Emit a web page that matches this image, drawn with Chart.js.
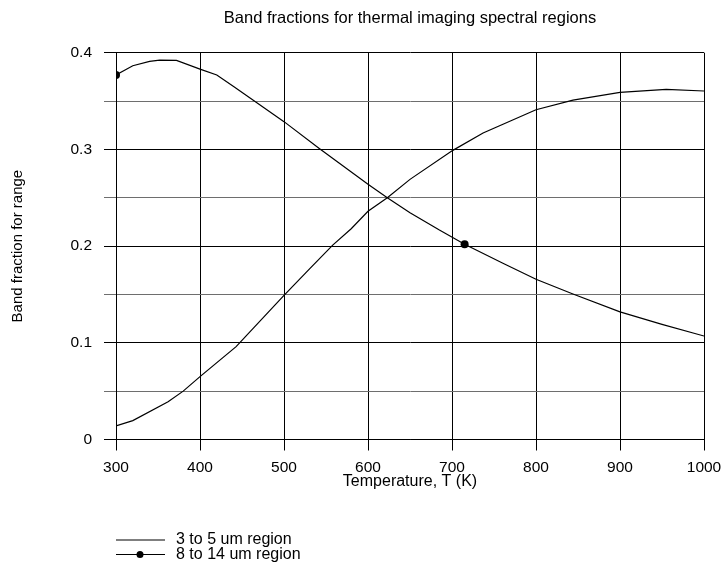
<!DOCTYPE html>
<html>
<head>
<meta charset="utf-8">
<script src="https://cdn.jsdelivr.net/npm/chart.js@4.4.1/dist/chart.umd.min.js"></script>
<style>
  html, body { margin: 0; padding: 0; background: #fff; }
</style>
</head>
<body>
<canvas id="chart" width="722" height="563"></canvas>
<script>
// 3 to 5 um band (rising curve)
const temps35 = [300, 320, 362, 380, 400, 443, 500, 531, 558, 580, 600, 623, 650, 701, 737, 800, 844, 900, 955, 1000];
const frac35  = [0.014, 0.0195, 0.039, 0.050, 0.065, 0.096, 0.149, 0.177, 0.201, 0.218, 0.236, 0.250, 0.269, 0.299, 0.317, 0.341, 0.351, 0.359, 0.362, 0.3604];

// 8 to 14 um band (falling curve, with markers)
const temps814 = [300, 320, 340, 352, 372, 400, 420, 440, 463, 500, 542, 600, 623, 650, 685, 715, 760, 800, 844, 900, 950, 1000];
const frac814  = [0.377, 0.3865, 0.391, 0.3924, 0.392, 0.383, 0.377, 0.365, 0.351, 0.3287, 0.301, 0.264, 0.250, 0.2346, 0.2166, 0.202, 0.1825, 0.1657, 0.1505, 0.132, 0.119, 0.107];
const markerTemps = [300, 715];

const seriesNames = ['3 to 5 um region', '8 to 14 um region'];
const chartTitle = 'Band fractions for thermal imaging spectral regions';
const xTicks = [300, 400, 500, 600, 700, 800, 900, 1000];

const FONT = '"Liberation Sans", Arial, sans-serif';

const toPoints = (xs, ys) => xs.map((x, i) => ({ x: x, y: ys[i] }));

// title centred over the plot area, not the whole canvas
const plotTitle = {
  id: 'plotTitle',
  afterDraw(chart) {
    const { ctx, chartArea } = chart;
    ctx.save();
    ctx.font = '16.5px ' + FONT;
    ctx.fillStyle = '#000';
    ctx.textAlign = 'center';
    ctx.textBaseline = 'middle';
    ctx.fillText(chartTitle, (chartArea.left + chartArea.right) / 2, 18);
    ctx.restore();
  }
};

// legend under the x axis, line samples on the left
const bottomLegend = {
  id: 'bottomLegend',
  afterDraw(chart) {
    const ctx = chart.ctx;
    ctx.save();
    ctx.font = '16px ' + FONT;
    ctx.textBaseline = 'middle';
    ctx.fillStyle = '#000';
    ctx.strokeStyle = '#000';
    ctx.lineWidth = 1.2;
    const rows = [540, 554.5];
    seriesNames.forEach((name, i) => {
      const y = rows[i];
      ctx.beginPath();
      ctx.moveTo(116, y);
      ctx.lineTo(165, y);
      ctx.stroke();
      if (i === 1) {
        ctx.beginPath();
        ctx.arc(140, y, 3.5, 0, Math.PI * 2);
        ctx.fill();
      }
      ctx.fillText(name, 176, y);
    });
    ctx.restore();
  }
};

new Chart(document.getElementById('chart'), {
  type: 'line',
  data: {
    datasets: [
      {
        label: seriesNames[0],
        data: toPoints(temps35, frac35),
        borderColor: '#000',
        borderWidth: 1.2,
        pointRadius: 0,
        tension: 0
      },
      {
        label: seriesNames[1],
        data: toPoints(temps814, frac814),
        borderColor: '#000',
        backgroundColor: '#000',
        borderWidth: 1.2,
        pointRadius: (c) => (c.raw && markerTemps.includes(c.raw.x)) ? 4 : 0,
        pointBorderWidth: 0,
        tension: 0
      }
    ]
  },
  options: {
    responsive: false,
    animation: false,
    events: [],
    layout: { padding: { left: 0, right: 18, top: 52.7, bottom: 71.5 } },
    plugins: {
      legend: { display: false },
      tooltip: { enabled: false },
      title: { display: false }
    },
    scales: {
      x: {
        type: 'linear',
        min: 300,
        max: 1000,
        afterBuildTicks: (scale) => { scale.ticks = xTicks.map(v => ({ value: v })); },
        afterFit: (scale) => {
          scale.height = 52;
          scale.paddingLeft = 0;
          scale.paddingRight = 0;
        },
        ticks: {
          color: '#000',
          padding: 8,
          font: { family: FONT, size: 15.5 },
          callback: (v) => String(v)
        },
        grid: { color: '#000', lineWidth: 1, tickLength: 11 },
        border: { color: '#000', width: 1 },
        title: {
          display: true,
          text: 'Temperature, T (K)',
          color: '#000',
          font: { family: FONT, size: 16 },
          padding: { top: 0, bottom: 0 }
        }
      },
      y: {
        min: 0,
        max: 0.4,
        afterFit: (scale) => { scale.width = 116; },
        ticks: {
          stepSize: 0.05,
          color: '#000',
          padding: 12,
          font: { family: FONT, size: 15.5 },
          callback: (v) => {
            const r = Math.round(v * 100);
            if (r % 10 !== 0) return '';
            return r === 0 ? '0' : (r / 100).toFixed(1);
          }
        },
        grid: {
          color: (c) => (Math.round(c.tick.value * 100) % 10 === 0) ? '#000' : '#6e6e6e',
          lineWidth: 1,
          tickLength: 12
        },
        border: { color: '#000', width: 1 },
        title: {
          display: true,
          text: 'Band fraction for range',
          color: '#000',
          font: { family: FONT, size: 15 },
          padding: { top: 9, bottom: 0 }
        }
      }
    }
  },
  plugins: [plotTitle, bottomLegend]
});
</script>
</body>
</html>
